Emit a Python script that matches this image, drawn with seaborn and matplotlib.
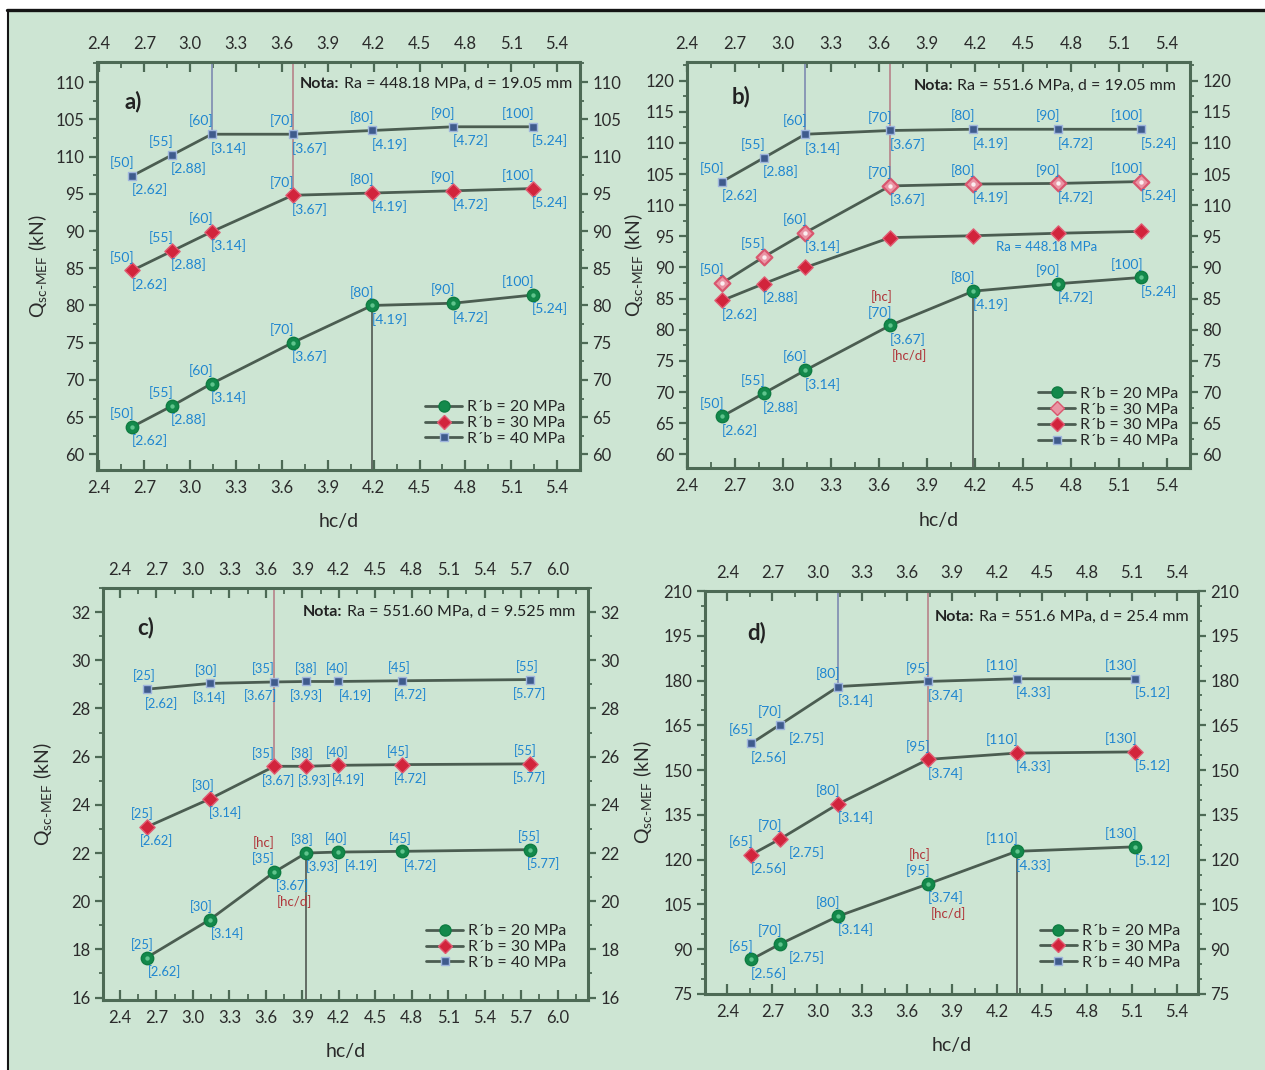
import matplotlib
matplotlib.use("Agg")
import matplotlib.pyplot as plt
import seaborn as sns
from matplotlib.lines import Line2D
from matplotlib.patches import Rectangle
from matplotlib.ticker import FixedLocator, AutoMinorLocator

# ---------------- data ----------------
# a) Ra = 448.18 MPa, d = 19.05 mm
a_hcd = [2.62, 2.88, 3.14, 3.67, 4.19, 4.72, 5.24]
a_hc = [50, 55, 60, 70, 80, 90, 100]
a_q20 = [63.7, 66.5, 69.5, 75.0, 80.0, 80.3, 81.4]
a_q30 = [84.7, 87.3, 89.9, 94.8, 95.1, 95.4, 95.7]
a_q40 = [97.4, 100.2, 103.0, 103.0, 103.5, 104.0, 104.0]
a_xticks = [2.4, 2.7, 3.0, 3.3, 3.6, 3.9, 4.2, 4.5, 4.8, 5.1, 5.4]
a_yticks = [60, 65, 70, 75, 80, 85, 90, 95, 100, 105, 110]
a_ylabels = ["60", "65", "70", "75", "80", "85", "90", "95", "110", "105", "110"]

# b) Ra = 551.6 MPa, d = 19.05 mm
b_hcd = [2.62, 2.88, 3.14, 3.67, 4.19, 4.72, 5.24]
b_hc = [50, 55, 60, 70, 80, 90, 100]
b_q20 = [66.1, 69.8, 73.5, 80.7, 86.2, 87.4, 88.4]
b_q30 = [87.5, 91.7, 95.6, 103.1, 103.4, 103.5, 103.8]
b_q30_ra448 = [84.7, 87.4, 90.0, 94.8, 95.1, 95.5, 95.8]
b_q40 = [103.8, 107.6, 111.4, 112.0, 112.2, 112.2, 112.2]
b_xticks = [2.4, 2.7, 3.0, 3.3, 3.6, 3.9, 4.2, 4.5, 4.8, 5.1, 5.4]
b_yticks = [60, 65, 70, 75, 80, 85, 90, 95, 100, 105, 110, 115, 120]
b_ylabels = ["60", "65", "70", "75", "80", "85", "90", "95", "110", "105",
             "110", "115", "120"]

# c) Ra = 551.60 MPa, d = 9.525 mm
c_hcd = [2.62, 3.14, 3.67, 3.93, 4.19, 4.72, 5.77]
c_hc = [25, 30, 35, 38, 40, 45, 55]
c_q20 = [17.66, 19.24, 21.21, 22.0, 22.04, 22.07, 22.14]
c_q30 = [23.08, 24.25, 25.6, 25.6, 25.64, 25.67, 25.7]
c_q40 = [28.8, 29.04, 29.1, 29.12, 29.12, 29.15, 29.2]
c_xticks = [2.4, 2.7, 3.0, 3.3, 3.6, 3.9, 4.2, 4.5, 4.8, 5.1, 5.4, 5.7, 6.0]
c_yticks = [16, 18, 20, 22, 24, 26, 28, 30, 32]
c_ylabels = ["16", "18", "20", "22", "24", "26", "28", "30", "32"]

# d) Ra = 551.6 MPa, d = 25.4 mm
d_hcd = [2.56, 2.75, 3.14, 3.74, 4.33, 5.12]
d_hc = [65, 70, 80, 95, 110, 130]
d_q20 = [86.6, 91.7, 101.1, 111.9, 122.8, 124.3]
d_q30 = [121.7, 126.9, 138.7, 153.6, 155.7, 156.1]
d_q40 = [159.0, 165.2, 178.0, 179.7, 180.6, 180.6]
d_xticks = [2.4, 2.7, 3.0, 3.3, 3.6, 3.9, 4.2, 4.5, 4.8, 5.1, 5.4]
d_yticks = [75, 90, 105, 120, 135, 150, 165, 180, 195, 210]
d_ylabels = ["75", "90", "105", "120", "135", "150", "165", "180", "195", "210"]

legend_3 = ["R´b = 20 MPa", "R´b = 30 MPa", "R´b = 40 MPa"]
legend_4 = ["R´b = 20 MPa", "R´b = 30 MPa", "R´b = 30 MPa", "R´b = 40 MPa"]

# ---------------- style ----------------
W, H = 1265, 1070
BG = "#cde5d3"
SPINE = "#4d6a55"
TXT = "#2b2b2b"
LINE = "#4b5d51"
GREEN = "#13894b"
RED = "#d2243c"
PINK = "#e57d90"
BLUE = "#3f5b8d"
LBL = "#1f86d0"
HCRED = "#b0363a"

sns.set_theme(style="ticks", rc={
    "axes.facecolor": BG,
    "figure.facecolor": "white",
    "axes.edgecolor": SPINE,
    "axes.linewidth": 2.2,
    "xtick.color": SPINE,
    "ytick.color": SPINE,
    "xtick.labelcolor": TXT,
    "ytick.labelcolor": TXT,
    "axes.labelcolor": TXT,
})
plt.rcParams["font.family"] = ["Lato", "DejaVu Sans"]
plt.rcParams["mathtext.fontset"] = "custom"
plt.rcParams["mathtext.rm"] = "Lato"
plt.rcParams["mathtext.bf"] = "Lato:bold"
plt.rcParams["mathtext.it"] = "Lato:italic"

FS_TICK = 12
FS_LAB = 14
FS_PT = 10
FS_LEG = 11.5

MK = {
    "q20": dict(marker="o", s=80, color=GREEN, edgecolor="#0f7c42", linewidth=1.0),
    "q30": dict(marker="D", s=60, color=RED, edgecolor="#e05a72", linewidth=1.0),
    "q30h": dict(marker="D", s=64, color="#ea95a4", edgecolor="#d9566e", linewidth=1.6),
    "q40": dict(marker="s", s=36, color=BLUE, edgecolor="#9fb5dc", linewidth=1.0),
}
GLOSS = {"q20": "#5fc48d", "q30h": "#fbeef0"}
HANDLE = {
    "q20": dict(marker="o", markersize=8, markerfacecolor=GREEN, markeredgecolor="#0f7c42"),
    "q30": dict(marker="D", markersize=7, markerfacecolor=RED, markeredgecolor="#e05a72"),
    "q30h": dict(marker="D", markersize=7, markerfacecolor="#ea95a4",
                 markeredgecolor="#d9566e"),
    "q40": dict(marker="s", markersize=5.5, markerfacecolor=BLUE, markeredgecolor="#9fb5dc"),
}

fig = plt.figure(figsize=(W / 100, H / 100), dpi=100)
fig.add_artist(Rectangle((9 / W, 0), 1 - 9 / W, 1 - 10 / H, transform=fig.transFigure,
                         facecolor=BG, edgecolor="none", zorder=-5))
fig.add_artist(Line2D([7 / W, 1], [1 - 10 / H, 1 - 10 / H], transform=fig.transFigure,
                      color="#151515", lw=2.4))
fig.add_artist(Line2D([8 / W, 8 / W], [0, 1 - 10 / H], transform=fig.transFigure,
                      color="#151515", lw=1.5))


def make_axes(rect, xlim, ylim, xticks, yticks, ylabels, yminor, ylab_x, xlab_y):
    x0, y0, x1, y1 = rect
    ax = fig.add_axes([x0 / W, 1 - y1 / H, (x1 - x0) / W, (y1 - y0) / H])
    ax.set_xlim(*xlim)
    ax.set_ylim(*ylim)
    ax.xaxis.set_major_locator(FixedLocator(xticks))
    ax.set_xticklabels([f"{v:.1f}" for v in xticks])
    ax.xaxis.set_minor_locator(AutoMinorLocator(2))
    ax.yaxis.set_major_locator(FixedLocator(yticks))
    ax.set_yticklabels(ylabels)
    ax.yaxis.set_minor_locator(AutoMinorLocator(yminor))
    ax.tick_params(axis="x", which="both", direction="in", top=True, labeltop=True,
                   bottom=True, labelbottom=True, labelsize=FS_TICK, pad=7)
    ax.tick_params(axis="x", which="major", length=7, width=1.6)
    ax.tick_params(axis="x", which="minor", length=4, width=1.3)
    ax.tick_params(axis="y", which="both", direction="out", left=True, right=True,
                   labelleft=True, labelright=True, labelsize=FS_TICK, pad=3)
    ax.tick_params(axis="y", which="major", length=6, width=1.6)
    ax.tick_params(axis="y", which="minor", length=3, width=1.3)
    for sp in ax.spines.values():
        sp.set_visible(True)
        sp.set_color(SPINE)
        sp.set_linewidth(2.2)
    ax.set_xlabel("hc/d", fontsize=FS_LAB)
    ax.set_ylabel(r"Q$_{\mathregular{sc\text{-}MEF}}$ (kN)", fontsize=FS_LAB)
    ax.xaxis.set_label_coords(0.5, xlab_y)
    ax.yaxis.set_label_coords(ylab_x, 0.5)
    return ax


def plot_series(ax, x, y, key):
    sns.lineplot(x=x, y=y, ax=ax, color=LINE, linewidth=2.0, sort=False,
                 legend=False, zorder=3)
    sns.scatterplot(x=x, y=y, ax=ax, zorder=4, legend=False, **MK[key])
    if key in GLOSS:
        sns.scatterplot(x=x, y=y, ax=ax, zorder=5, legend=False, marker="o", s=10,
                        color=GLOSS[key], linewidth=0)


def _pick(v, k):
    return v[k] if isinstance(v, (list, tuple)) else v


def label_pts(ax, x, y, hc, above=None, below=None, ha_a="right", ha_b="left",
              dx_a=1.5, dx_b=-0.5, fs=FS_PT):
    n = len(x)
    above = range(n) if above is None else above
    below = range(n) if below is None else below
    for i in above:
        ax.annotate(f"[{hc[i]}]", xy=(x[i], y[i]), xytext=(_pick(dx_a, i), 9.5),
                    textcoords="offset points", ha=_pick(ha_a, i), va="center",
                    color=LBL, fontsize=fs, zorder=6)
    for i in below:
        ax.annotate(f"[{x[i]:.2f}]", xy=(x[i], y[i]), xytext=(_pick(dx_b, i), -10),
                    textcoords="offset points", ha=_pick(ha_b, i), va="center",
                    color=LBL, fontsize=fs, zorder=6)


def hc_marks(ax, x, y, i, dx_a=1.5, dx_b=-0.5, ha_a="right", ha_b="left"):
    ax.annotate("[hc]", xy=(x[i], y[i]), xytext=(dx_a, 21), textcoords="offset points",
                ha=ha_a, va="center", color=HCRED, fontsize=FS_PT - 0.5, zorder=6)
    ax.annotate("[hc/d]", xy=(x[i], y[i]), xytext=(dx_b + 2, -21.5),
                textcoords="offset points", ha=ha_b, va="center", color=HCRED,
                fontsize=FS_PT - 0.5, zorder=6)


def guides(ax, top_pts, bottom_pts):
    y0, y1 = ax.get_ylim()
    for xi, yi, c in top_pts:
        ax.vlines(xi, yi, y1, colors=c, lw=1.3, zorder=2)
    for xi, yi, c in bottom_pts:
        ax.vlines(xi, y0, yi, colors=c, lw=1.3, zorder=2)


def decorate(ax, letter, lpos, nota, npos, keys, labels, lanchor):
    ax.text(*lpos, letter, transform=ax.transAxes, fontsize=16, fontweight="bold",
            color="#222222", ha="center", va="center")
    body = ax.text(*npos, nota, transform=ax.transAxes, fontsize=11.5,
                   color="#222222", ha="right", va="center")
    ax.annotate("Nota:", xy=(0, 0.5), xycoords=body, xytext=(-3, 0),
                textcoords="offset points", fontsize=11.5, fontweight="bold",
                color="#222222", ha="right", va="center")
    handles = [Line2D([], [], color=LINE, lw=2, **HANDLE[k]) for k in keys]
    ax.legend(handles, labels, loc="lower right", bbox_to_anchor=lanchor,
              frameon=False, fontsize=FS_LEG, handlelength=2.3, handletextpad=0.3,
              labelspacing=0.1, borderpad=0, borderaxespad=0)


GUIDE_B = "#8491b3"
GUIDE_R = "#b98a8f"
GUIDE_K = "#5a635c"

# ---------------- a) ----------------
ax = make_axes((97, 62, 580, 470), (2.39, 5.55), (57.9, 112.7), a_xticks, a_yticks,
               a_ylabels, 2, -0.099, -0.105)
guides(ax, [(a_hcd[2], a_q40[2], GUIDE_B), (a_hcd[3], a_q30[3], GUIDE_R)],
       [(a_hcd[4], a_q20[4], GUIDE_K)])
plot_series(ax, a_hcd, a_q20, "q20")
plot_series(ax, a_hcd, a_q30, "q30")
plot_series(ax, a_hcd, a_q40, "q40")
for q in (a_q20, a_q30, a_q40):
    label_pts(ax, a_hcd, q, a_hc)
decorate(ax, "a)", (0.075, 0.904), "Ra = 448.18 MPa, d = 19.05 mm", (0.983, 0.946),
         ["q20", "q30", "q40"], legend_3, (0.969, 0.059))

# ---------------- b) ----------------
ax = make_axes((687, 62, 1190, 468), (2.4, 5.545), (57.8, 123.0), b_xticks, b_yticks,
               b_ylabels, 2, -0.083, -0.108)
guides(ax, [(b_hcd[2], b_q40[2], GUIDE_B), (b_hcd[3], b_q30[3], GUIDE_R)],
       [(b_hcd[4], b_q20[4], GUIDE_K)])
plot_series(ax, b_hcd, b_q20, "q20")
plot_series(ax, b_hcd, b_q30_ra448, "q30")
plot_series(ax, b_hcd, b_q30, "q30h")
plot_series(ax, b_hcd, b_q40, "q40")
label_pts(ax, b_hcd, b_q40, b_hc)
label_pts(ax, b_hcd, b_q30, b_hc, below=range(2, 7))
label_pts(ax, b_hcd, b_q30_ra448, b_hc, above=[], below=[0, 1])
label_pts(ax, b_hcd, b_q20, b_hc)
hc_marks(ax, b_hcd, b_q20, 3)
ax.text(4.65, 93.3, "Ra = 448.18 MPa", color=LBL, fontsize=9.5, ha="center",
        va="center")
decorate(ax, "b)", (0.107, 0.914), "Ra = 551.6 MPa, d = 19.05 mm", (0.972, 0.941),
         ["q20", "q30h", "q30", "q40"], legend_4, (0.976, 0.049))

# ---------------- c) ----------------
ax = make_axes((103, 588, 588, 1000), (2.26, 6.25), (15.9, 33.0), c_xticks, c_yticks,
               c_ylabels, 2, -0.101, -0.104)
guides(ax, [(c_hcd[2], c_q30[2], GUIDE_R)], [(c_hcd[3], c_q20[3], GUIDE_K)])
plot_series(ax, c_hcd, c_q20, "q20")
plot_series(ax, c_hcd, c_q30, "q30")
plot_series(ax, c_hcd, c_q40, "q40")
FS_C = 9.3
label_pts(ax, c_hcd, c_q40, c_hc, fs=FS_C,
          ha_a=["center", "center", "right", "center", "center", "center", "center"],
          dx_a=[-2, -3, 0, 0, 0, -2, -2],
          ha_b=["left", "center", "right", "center", "left", "center", "center"],
          dx_b=[-1, 0, 2, 0, 1, 6, 0])
label_pts(ax, c_hcd, c_q30, c_hc, fs=FS_C,
          ha_a=["center", "center", "right", "center", "center", "center", "center"],
          dx_a=[-3, -5, 0, -3, 0, -3, -3],
          ha_b=["left", "left", "center", "center", "center", "center", "center"],
          dx_b=[-5, -1, 3, 6, 8, 6, 0])
label_pts(ax, c_hcd, c_q20, c_hc, fs=FS_C,
          ha_a=["center", "center", "right", "center", "center", "center", "center"],
          dx_a=[-3, -6, 0, -3, -1, -1, 0],
          ha_b="left", dx_b=[1, 1, 1, 0, 5, 1, -2])
hc_marks(ax, c_hcd, c_q20, 2, dx_a=0)
decorate(ax, "c)", (0.087, 0.903), "Ra = 551.60 MPa, d = 9.525 mm", (0.973, 0.942),
         ["q20", "q30", "q40"], legend_3, (0.955, 0.073))

# ---------------- d) ----------------
ax = make_axes((705, 591, 1198, 994), (2.25, 5.54), (75, 210), d_xticks, d_yticks,
               d_ylabels, 3, -0.103, -0.107)
guides(ax, [(d_hcd[2], d_q40[2], GUIDE_B), (d_hcd[3], d_q30[3], GUIDE_R)],
       [(d_hcd[4], d_q20[4], GUIDE_K)])
plot_series(ax, d_hcd, d_q20, "q20")
plot_series(ax, d_hcd, d_q30, "q30")
plot_series(ax, d_hcd, d_q40, "q40")
for q in (d_q20, d_q30, d_q40):
    label_pts(ax, d_hcd, q, d_hc, dx_b=[-0.5, 6, -0.5, -0.5, -0.5, -0.5])
hc_marks(ax, d_hcd, d_q20, 3)
decorate(ax, "d)", (0.105, 0.896), "Ra = 551.6 MPa, d = 25.4 mm", (0.98, 0.935),
         ["q20", "q30", "q40"], legend_3, (0.963, 0.06))

fig.savefig("out.png", dpi=100)
